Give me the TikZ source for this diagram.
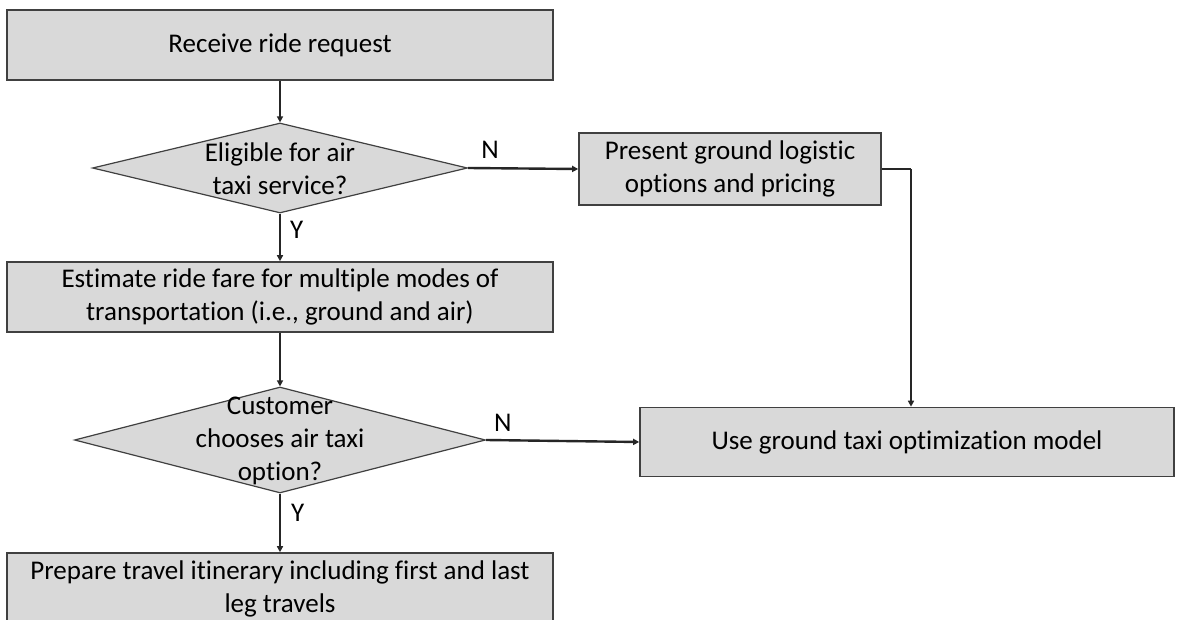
\documentclass[tikz,border=0pt]{standalone}
\usepackage{fontspec}
\setmainfont{Carlito}[Ligatures=NoCommon]
\usetikzlibrary{shapes.geometric,arrows.meta}
\definecolor{boxfill}{HTML}{D9D9D9}
\definecolor{boxline}{HTML}{404040}
\tikzset{
  procbox/.style={draw=boxline, fill=boxfill, line width=1.6pt, align=center, inner sep=0pt},
  decbox/.style={diamond, draw=boxline, fill=boxfill, line width=1.2pt, inner sep=0pt},
  lbl/.style={align=center, inner sep=0pt},
  conn/.style={draw=black!85, line width=2.4pt, -{Triangle[length=6pt,width=6pt]}},
  plain/.style={draw=black!85, line width=2.4pt},
  yn/.style={inner sep=0pt}
}
\begin{document}
\begin{tikzpicture}[x=1pt, y=-1pt, font=\fontsize{27}{33}\selectfont]
\useasboundingbox (0,0) rectangle (1181,620);
\fill[white] (0,0) rectangle (1181,620);
\clip (0,0) rectangle (1181,620);

\node[procbox, minimum width=546pt, minimum height=70pt] (b1) at (280,45) {Receive ride request};
\node[decbox, minimum width=375pt, minimum height=90pt] (d1) at (280,168) {};
\node[lbl] (d1t) at (280,169) {Eligible for air\\taxi service?};
\node[procbox, minimum width=302pt, minimum height=72pt] (p) at (730,169) {Present ground logistic\\options and pricing};
\node[procbox, minimum width=546pt, minimum height=70pt] (b2) at (280,297) {Estimate ride fare for multiple modes of\\transportation (i.e., ground and air)};
\node[decbox, minimum width=411pt, minimum height=106pt] (d2) at (280,440) {};
\node[lbl] (d2t) at (280,441) {Customer\\chooses air taxi\\option?};
\node[procbox, minimum width=534pt, minimum height=69pt] (u) at (907,442) {Use ground taxi optimization model};
\node[procbox, minimum width=546pt, minimum height=72pt] (b3) at (280,589) {Prepare travel itinerary including first and last\\leg travels};

\coordinate (pc) at (911,169);

\draw[conn] (b1.south) -- (d1.north);
\draw[conn] (d1.east) -- (p.west) node[yn, pos=0.2, above=8pt] (n1) {N};
\draw[conn] (d1.south) -- (b2.north) node[yn, pos=0.35, right=9pt] (y1) {Y};
\draw[conn] (b2.south) -- (d2.north);
\draw[conn] (d2.east) -- (u.west) node[yn, pos=0.11, above=8pt] (n2) {N};
\draw[conn] (d2.south) -- (b3.north) node[yn, pos=0.33, right=10pt] (y2) {Y};
\draw[plain] (p.east) -- (pc);
\draw[conn] (pc) -- (pc |- u.north);
\end{tikzpicture}
\end{document}
